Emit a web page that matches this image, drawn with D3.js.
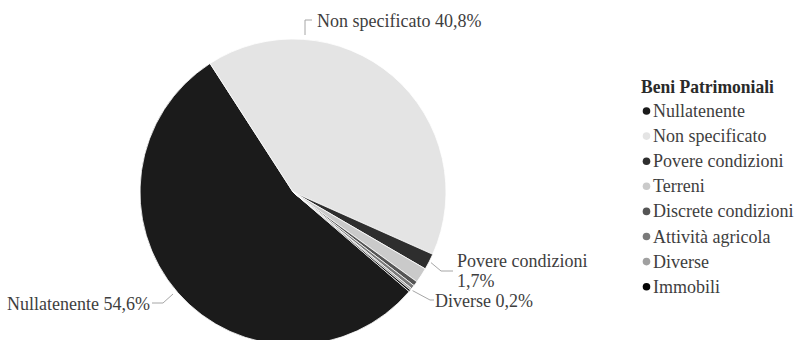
<!DOCTYPE html>
<html>
<head>
<meta charset="utf-8">
<script src="https://cdn.jsdelivr.net/npm/d3@7"></script>
<style>
  html, body { margin: 0; padding: 0; background: #fff; }
  svg { display: block; }
  text { font-family: "Liberation Serif", "Times New Roman", serif; }
</style>
</head>
<body>
<svg id="chart" width="795" height="340"></svg>
<script>
// Beni patrimoniali: percent shares
const categories = ["Nullatenente", "Non specificato", "Povere condizioni", "Terreni",
                    "Discrete condizioni", "Attività agricola", "Diverse", "Immobili"];
const values = [54.6, 40.8, 1.7, 1.6, 0.5, 0.4, 0.2, 0.2];
const colors = ["#1b1b1b", "#e4e4e4", "#2e2e2e", "#cacaca", "#555555", "#7a7a7a", "#a0a0a0", "#050505"];
const legendTitle = "Beni Patrimoniali";

const fmt = v => d3.format(".1f")(v).replace(".", ",") + "%";

const svg = d3.select("#chart");
const cx = 293, cy = 192, R = 153;

// first slice begins a little past 4 o'clock and slices run clockwise
const start = 130.6 * Math.PI / 180;
const pie = d3.pie().sort(null).value(d => d.v).startAngle(start).endAngle(start + 2 * Math.PI);
const data = categories.map((c, i) => ({ c, v: values[i], col: colors[i] }));
const arcs = pie(data);
const arc = d3.arc().innerRadius(0).outerRadius(R);

const g = svg.append("g").attr("transform", `translate(${cx},${cy})`);
g.selectAll("path").data(arcs).join("path")
  .attr("d", arc)
  .attr("fill", d => d.data.col)
  .attr("stroke", "#fff")
  .attr("stroke-width", 0.8);

// leader lines and labels
const FS = 18;
const lab = svg.append("g").attr("font-size", FS).attr("fill", "#3e3e3e");
const lineStyle = sel => sel.attr("fill", "none").attr("stroke", "#a6a6a6").attr("stroke-width", 1);
const byName = n => arcs.find(a => a.data.c === n);
const edge = (a, r) => {
  const m = (a.startAngle + a.endAngle) / 2;
  return [cx + Math.sin(m) * r, cy - Math.cos(m) * r];
};

// Non specificato
{
  const a = byName("Non specificato");
  lab.append("path").call(lineStyle).attr("d", "M305,35 L305,20 L312,20");
  lab.append("text").attr("x", 317).attr("y", 27).text(`${a.data.c} ${fmt(a.data.v)}`);
}
// Povere condizioni
{
  const a = byName("Povere condizioni");
  const p = edge(a, R + 2);
  lab.append("path").call(lineStyle)
    .attr("d", `M${p[0]},${p[1]} L441,271 L453,271`);
  lab.append("text").attr("x", 457).attr("y", 267).text(a.data.c);
  lab.append("text").attr("x", 457).attr("y", 287).text(fmt(a.data.v));
}
// Diverse
{
  const a = byName("Diverse");
  const p = edge(a, R + 2);
  lab.append("path").call(lineStyle)
    .attr("d", `M${p[0]},${p[1]} L430,300 L434,300`);
  lab.append("text").attr("x", 435).attr("y", 307).text(`${a.data.c} ${fmt(a.data.v)}`);
}
// Nullatenente
{
  const a = byName("Nullatenente");
  lab.append("path").call(lineStyle).attr("d", "M173,294 L163,303 L152,303");
  lab.append("text").attr("x", 150).attr("y", 310).attr("text-anchor", "end")
    .text(`${a.data.c} ${fmt(a.data.v)}`);
}

// legend
const leg = svg.append("g").attr("transform", "translate(641,0)");
const title = leg.append("text").attr("x", 0).attr("y", 0).attr("font-size", FS)
  .attr("font-weight", "bold").attr("fill", "#2a2a2a")
  .text(legendTitle);
// widen the bold heading to its Times-style width
const tw = title.node().getComputedTextLength();
title.attr("transform", `translate(0,93) scale(${tw > 0 ? 133 / tw : 1},1)`);

const items = leg.selectAll("g.item").data(data).join("g")
  .attr("class", "item")
  .attr("transform", (d, i) => `translate(0,${117 + i * 25.1})`);
items.append("circle").attr("cx", 5.5).attr("cy", -6).attr("r", 3.8).attr("fill", d => d.col);
items.append("text").attr("x", 12).attr("y", 0).attr("font-size", FS).attr("fill", "#3e3e3e")
  .text(d => d.c);
</script>
</body>
</html>
